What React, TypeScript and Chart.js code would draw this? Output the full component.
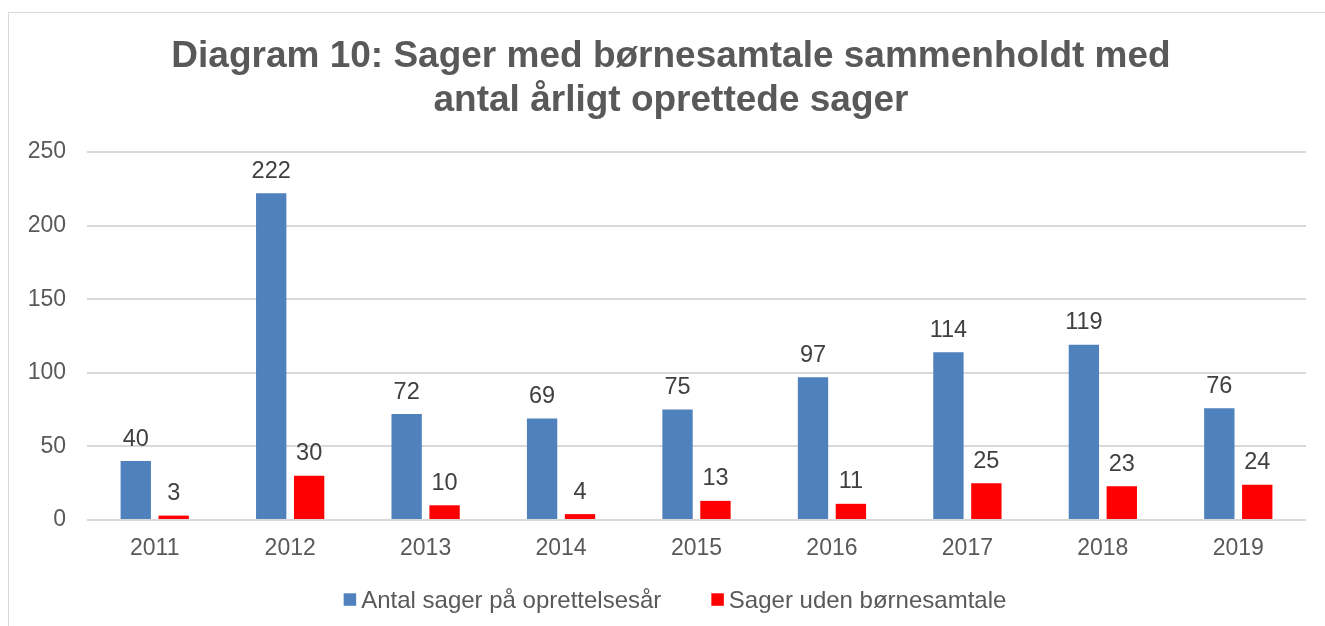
import React, { useEffect, useRef } from "react";
import { Chart, registerables } from "chart.js";

Chart.register(...registerables);

const categories = ["2011", "2012", "2013", "2014", "2015", "2016", "2017", "2018", "2019"];
const antalSager = [40, 222, 72, 69, 75, 97, 114, 119, 76];
const sagerUdenBoernesamtale = [3, 30, 10, 4, 13, 11, 25, 23, 24];
const seriesNames = ["Antal sager på oprettelsesår", "Sager uden børnesamtale"];
const seriesColors = ["#4F81BD", "#FF0000"];
const titleLines = ["Diagram 10: Sager med børnesamtale sammenholdt med", "antal årligt oprettede sager"];

const FONT = "'Liberation Sans', Arial, sans-serif";

const labelPlugin = {
  id: "barLabels",
  afterDatasetsDraw(chart: any) {
    const ctx = chart.ctx;
    ctx.save();
    ctx.font = `23.5px ${FONT}`;
    ctx.fillStyle = "#404040";
    ctx.textAlign = "center";
    ctx.textBaseline = "alphabetic";
    chart.data.datasets.forEach((ds: any, i: number) => {
      const meta = chart.getDatasetMeta(i);
      meta.data.forEach((el: any, j: number) => {
        ctx.fillText(String(ds.data[j]), el.x, el.y - 15.5);
      });
    });
    ctx.restore();
  },
};

const titleLegendPlugin = {
  id: "titleLegend",
  afterDraw(chart: any) {
    const ctx = chart.ctx;
    ctx.save();
    // title
    ctx.font = `bold 37px ${FONT}`;
    ctx.fillStyle = "#595959";
    ctx.textAlign = "center";
    ctx.textBaseline = "alphabetic";
    ctx.fillText(titleLines[0], 671, 67);
    ctx.fillText(titleLines[1], 671, 111);
    // legend
    ctx.font = `24px ${FONT}`;
    const box = 12.5;
    const gap = 5;
    const itemGap = 50;
    const widths = seriesNames.map((n) => ctx.measureText(n).width);
    const total = widths.reduce((a, w) => a + box + gap + w, 0) + itemGap * (seriesNames.length - 1);
    let x = 675 - total / 2;
    ctx.textAlign = "left";
    seriesNames.forEach((n, i) => {
      ctx.fillStyle = seriesColors[i];
      ctx.fillRect(x, 593.3, box, box);
      ctx.fillStyle = "#595959";
      ctx.fillText(n, x + box + gap, 608);
      x += box + gap + widths[i] + itemGap;
    });
    ctx.restore();
  },
};

export default function App() {
  const ref = useRef<HTMLCanvasElement>(null);
  useEffect(() => {
    if (!ref.current) return;
    const chart = new Chart(ref.current, {
      type: "bar",
      data: {
        labels: categories,
        datasets: [
          {
            label: seriesNames[0],
            data: antalSager,
            backgroundColor: seriesColors[0],
            barPercentage: 0.8,
            categoryPercentage: 0.56,
          },
          {
            label: seriesNames[1],
            data: sagerUdenBoernesamtale,
            backgroundColor: seriesColors[1],
            barPercentage: 0.8,
            categoryPercentage: 0.56,
          },
        ],
      },
      plugins: [labelPlugin, titleLegendPlugin],
      options: {
        animation: false,
        responsive: false,
        maintainAspectRatio: false,
        layout: { padding: { left: 16, right: 19, top: 152, bottom: 48.4 } },
        plugins: {
          title: { display: false },
          legend: { display: false },
          tooltip: { enabled: false },
        },
        scales: {
          x: {
            grid: { display: false, drawTicks: false },
            border: { display: false },
            ticks: { color: "#595959", font: { family: FONT, size: 23, lineHeight: 1.2 }, padding: 15 },
          },
          y: {
            min: 0,
            max: 250,
            afterFit: (scale: any) => {
              scale.width = 71;
            },
            ticks: { stepSize: 50, color: "#595959", font: { family: FONT, size: 23 }, padding: 21 },
            grid: { color: "#d9d9d9", lineWidth: 2, drawTicks: false },
            border: { display: false },
          },
        },
      },
    });
    return () => chart.destroy();
  }, []);
  return (
    <>
      <div
        style={{
          position: "fixed",
          left: 8,
          top: 12,
          width: 1400,
          height: 700,
          border: "1px solid #d9d9d9",
        }}
      />
      <canvas
        ref={ref}
        width={1325}
        height={626}
        style={{ position: "fixed", left: 0, top: 0, width: 1325, height: 626 }}
      />
    </>
  );
}
